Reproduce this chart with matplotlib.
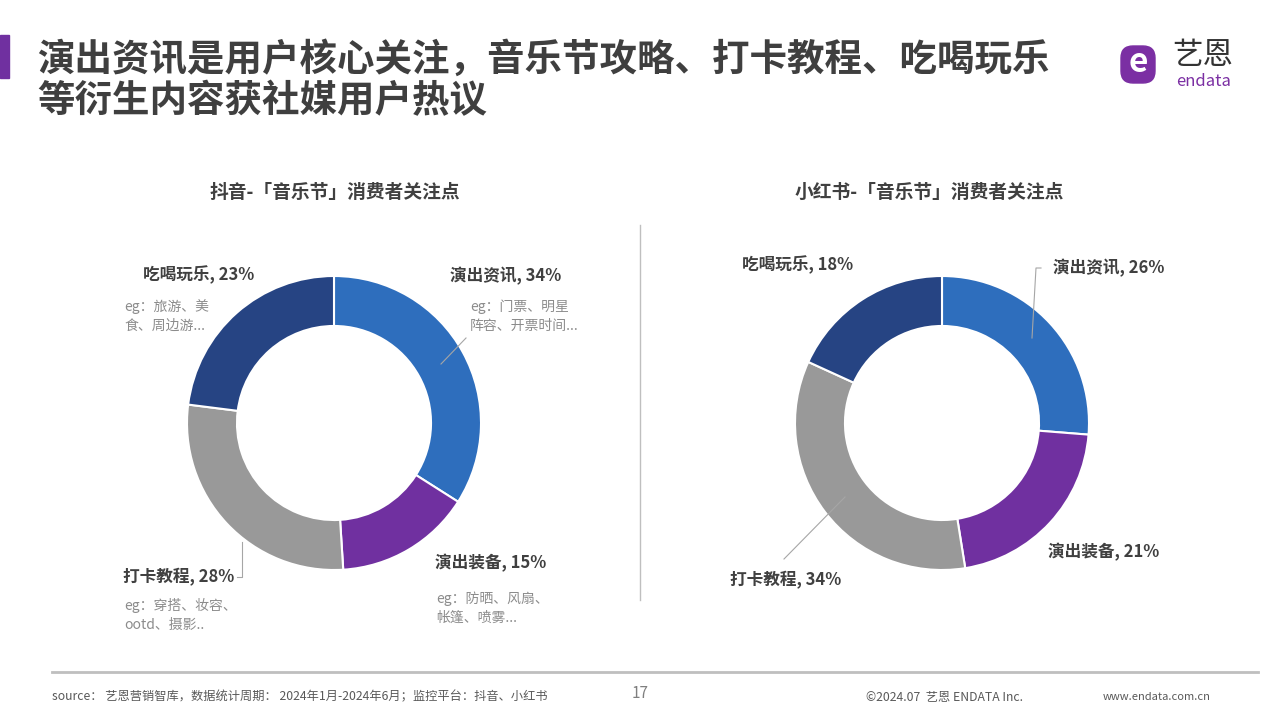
import matplotlib
matplotlib.use("Agg")
import matplotlib.pyplot as plt
from matplotlib.patches import FancyBboxPatch, Rectangle

plt.rcParams["font.family"] = ["Noto Sans CJK SC", "DejaVu Sans"]

# data
CATS = ["演出资讯", "演出装备", "打卡教程", "吃喝玩乐"]
DOUYIN = [34, 15, 28, 23]
XHS = [26, 21, 34, 18]
COLORS = ["#2E6EBD", "#7030A0", "#999999", "#264483"]
DOUYIN_EG = ["eg：门票、明星\n阵容、开票时间...", "eg：防晒、风扇、\n帐篷、喷雾...",
             "eg：穿搭、妆容、\nootd、摄影..", "eg：旅游、美\n食、周边游..."]

TITLE = "演出资讯是用户核心关注，音乐节攻略、打卡教程、吃喝玩乐\n等衍生内容获社媒用户热议"
SUB_L = "抖音-「音乐节」消费者关注点"
SUB_R = "小红书-「音乐节」消费者关注点"
SOURCE = "source： 艺恩营销智库，数据统计周期： 2024年1月-2024年6月；监控平台：抖音、小红书"

W, H = 1280, 720
DARK = "#404040"
EGC = "#8C8C8C"
LEAD = "#A6A6A6"
PURPLE = "#7B2FA3"


def donut(fig, cx, cy, r, vals):
    ax = fig.add_axes([(cx - r) / W, 1 - (cy + r) / H, 2 * r / W, 2 * r / H])
    ax.pie(vals, colors=COLORS, startangle=90, counterclock=False, radius=1,
           wedgeprops=dict(width=0.34, edgecolor="white", linewidth=1.5))
    ax.set_xlim(-1, 1)
    ax.set_ylim(-1, 1)
    ax.set_aspect("equal")
    return ax


fig = plt.figure(figsize=(12.8, 7.2), dpi=100)
donut(fig, 334, 423, 147, DOUYIN)
donut(fig, 942, 423, 147, XHS)

# overlay in pixel coords for text and decorations
ov = fig.add_axes([0, 0, 1, 1])
ov.set_xlim(0, W)
ov.set_ylim(H, 0)
ov.axis("off")
ov.patch.set_alpha(0)

# title
ov.add_patch(Rectangle((0, 35), 9, 43, color="#7030A0"))
ov.text(37, 80, TITLE, fontsize=27, fontweight="bold", color="#3F3F3F",
        va="center", ha="left", linespacing=1.05)

# logo
ov.add_patch(FancyBboxPatch((1124, 49), 28, 31, boxstyle="round,pad=3,rounding_size=12",
                            color=PURPLE))
ov.text(1138, 63, "e", fontsize=24, fontweight="bold", color="white", ha="center", va="center")
ov.text(1203, 55, "艺恩", fontsize=22, color="#333333", ha="center", va="center")
ov.text(1204, 81, "endata", fontsize=12, color=PURPLE, ha="center", va="center")

# subtitles
ov.text(335, 192, SUB_L, fontsize=13.5, fontweight="bold", color=DARK, ha="center", va="center")
ov.text(929, 192, SUB_R, fontsize=13.5, fontweight="bold", color=DARK, ha="center", va="center")
ov.plot([640, 640], [225, 600], color="#BFBFBF", lw=1)

# left labels
lab = dict(fontsize=12, fontweight="bold", color=DARK, ha="left", va="center")
eg = dict(fontsize=10, color=EGC, ha="left", va="center", linespacing=1.45)
ov.text(450, 276, f"{CATS[0]}, {DOUYIN[0]}%", **lab)
ov.text(470, 316, DOUYIN_EG[0], **eg)
ov.plot([466, 441], [338, 364], color=LEAD, lw=0.8)
ov.text(435, 563, f"{CATS[1]}, {DOUYIN[1]}%", **lab)
ov.text(436, 608, DOUYIN_EG[1], **eg)
ov.text(123, 577, f"{CATS[2]}, {DOUYIN[2]}%", **lab)
ov.text(124, 615, DOUYIN_EG[2], **eg)
ov.plot([237, 242, 242], [577, 577, 542], color=LEAD, lw=0.8)
ov.text(143, 275, f"{CATS[3]}, {DOUYIN[3]}%", **lab)
ov.text(124, 316, DOUYIN_EG[3], **eg)

# right labels
ov.text(1053, 268, f"{CATS[0]}, {XHS[0]}%", **lab)
ov.plot([1041, 1036, 1032], [268, 268, 338], color=LEAD, lw=0.8)
ov.text(1048, 552, f"{CATS[1]}, {XHS[1]}%", **lab)
ov.text(730, 580, f"{CATS[2]}, {XHS[2]}%", **lab)
ov.plot([784, 845], [559, 497], color=LEAD, lw=0.8)
ov.text(742, 265, f"{CATS[3]}, {XHS[3]}%", **lab)

# footer
ov.plot([52, 1258], [672, 672], color="#BFBFBF", lw=2)
ov.text(52, 697, SOURCE, fontsize=8.8, color="#595959", ha="left", va="center")
ov.text(640, 694, "17", fontsize=11, color="#7F7F7F", ha="center", va="center")
ov.text(866, 697, "©2024.07  艺恩 ENDATA Inc.", fontsize=8.8, color="#595959", ha="left", va="center")
ov.text(1103, 697, "www.endata.com.cn", fontsize=8, color="#595959", ha="left", va="center")

fig.savefig("out.png", dpi=100, facecolor="white")
